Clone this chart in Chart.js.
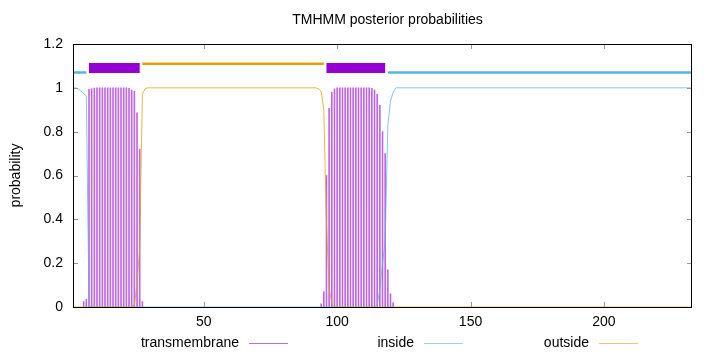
<!DOCTYPE html>
<html><head><meta charset="utf-8">
<script src="https://cdn.jsdelivr.net/npm/chart.js@4/dist/chart.umd.min.js"></script>
<style>html,body{margin:0;padding:0;background:#fff}#wrap{width:720px;height:352px;position:relative}</style>
</head><body><div id="wrap"><canvas id="c" width="720" height="352"></canvas></div>
<script>
const titleText = 'TMHMM posterior probabilities';
const yAxisLabel = 'probability';
const seqStart = 1;
const seqLength = 233;
const xTicks = [50, 100, 150, 200];
const yTicks = [0, 0.2, 0.4, 0.6, 0.8, 1, 1.2];
const seriesNames = ['transmembrane', 'inside', 'outside'];

// transmembrane posterior (impulses) — nonzero residues only
const tmPos = [5,6,7,8,9,10,11,12,13,14,15,16,17,18,19,20,21,22,23,24,25,26,27,
  94,95,96,97,98,99,100,101,102,103,104,105,106,107,108,109,110,111,112,113,114,115,116,117,118,119,120,121];
const tmProb = [0.025,0.035,0.993,0.996,0.999,1,1,1,1,1,1,1,1,1,1,1,1,0.998,0.99,0.984,0.886,0.72,0.025,
  0.014,0.07,0.6,0.907,0.98,0.995,1,1,1,1,1,1,1,1,1,1,1,1,1,0.998,0.99,0.97,0.92,0.8,0.7,0.17,0.06,0.02];

// inside posterior (where it changes)
const insidePos  = [1,2,3,4,5,6,7,8,9,114,115,116,117,118,119,120,121,122,233];
const insideProb = [1,1,0.995,0.985,0.975,0.96,0.005,0.002,0,0,0.01,0.08,0.2,0.3,0.83,0.94,0.98,1,1];

// outside posterior (where it changes)
const outsidePos  = [1,23,24,25,26,27,28,29,92,93,94,95,96,97,98,99,233];
const outsideProb = [0,0,0.01,0.1,0.27,0.97,0.995,1,1,0.995,0.985,0.9,0.38,0.09,0.015,0,0];

// predicted topology
const topoStart = [1, 7, 27, 96, 119];
const topoEnd   = [6, 26, 95, 118, 233];
const topoType  = ['inside', 'transmembrane', 'outside', 'transmembrane', 'inside'];
const topoLevel = {inside: 1.07, transmembrane: 1.09, outside: 1.11};

const colors = {transmembrane: '#9400d3', inside: '#56b4e9', outside: '#e69f00'};
const thinColors = {transmembrane: 'rgba(148,0,211,0.6)', inside: 'rgba(86,180,233,0.75)', outside: 'rgba(230,159,0,0.75)'};
const legendColors = {transmembrane: '#b46ee6', inside: '#9fd0f2', outside: '#f0c770'};
const topoWidth = {inside: 2.5, transmembrane: 10, outside: 2.5};
const FONT = "'Liberation Sans', Arial, Helvetica, sans-serif";

const datasets = [];
topoType.forEach((t, i) => {
  datasets.push({
    type: 'line', order: 0,
    data: [{x: topoStart[i], y: topoLevel[t]}, {x: topoEnd[i], y: topoLevel[t]}],
    borderColor: colors[t], borderWidth: topoWidth[t], borderCapStyle: 'butt',
    pointRadius: 0, tension: 0
  });
});
datasets.push({
  type: 'line', order: 1, label: 'outside',
  data: outsidePos.map((x, i) => ({x, y: outsideProb[i]})),
  borderColor: thinColors.outside, borderWidth: 1, pointRadius: 0, tension: 0
});
datasets.push({
  type: 'line', order: 2, label: 'inside',
  data: insidePos.map((x, i) => ({x, y: insideProb[i]})),
  borderColor: thinColors.inside, borderWidth: 1, pointRadius: 0, tension: 0
});
datasets.push({
  type: 'bar', order: 3, label: 'transmembrane',
  data: tmPos.map((x, i) => ({x, y: tmProb[i]})),
  backgroundColor: 'rgba(148,0,211,0.6)', barThickness: 1, borderWidth: 0
});

const decor = {
  id: 'decor',
  afterDraw(chart) {
    const ctx = chart.ctx, a = chart.chartArea;
    const xs = chart.scales.x, ys = chart.scales.y;
    ctx.save();
    // inward tick marks
    ctx.strokeStyle = '#999'; ctx.lineWidth = 1;
    ctx.beginPath();
    yTicks.forEach(v => {
      const y = Math.round(ys.getPixelForValue(v)) + 0.5;
      ctx.moveTo(a.left, y); ctx.lineTo(a.left + 5, y);
      ctx.moveTo(a.right, y); ctx.lineTo(a.right - 5, y);
    });
    xTicks.forEach(v => {
      const x = Math.round(xs.getPixelForValue(v)) + 0.5;
      ctx.moveTo(x, a.bottom); ctx.lineTo(x, a.bottom - 5);
      ctx.moveTo(x, a.top); ctx.lineTo(x, a.top + 5);
    });
    ctx.stroke();
    // frame
    ctx.strokeStyle = '#000';
    ctx.strokeRect(a.left + 0.5, a.top + 0.5, a.right - a.left - 1, a.bottom - a.top);
    // title
    ctx.fillStyle = '#000';
    ctx.font = '14px ' + FONT;
    ctx.textAlign = 'center'; ctx.textBaseline = 'middle';
    ctx.fillText(titleText, (a.left + a.right) / 2 + 5, 20);
    // y label
    ctx.save();
    ctx.translate(16, (a.top + a.bottom) / 2);
    ctx.rotate(-Math.PI / 2);
    ctx.fillText(yAxisLabel, 0, 0);
    ctx.restore();
    // legend
    const legendY = 343;
    seriesNames.forEach((name, i) => {
      const right = 239 + 175 * i;
      ctx.textAlign = 'right';
      ctx.fillStyle = '#000';
      ctx.fillText(name, right, legendY);
      ctx.strokeStyle = legendColors[name];
      ctx.lineWidth = 1;
      ctx.beginPath();
      ctx.moveTo(right + 10, legendY + 0.5);
      ctx.lineTo(right + 49, legendY + 0.5);
      ctx.stroke();
    });
    ctx.restore();
  }
};

new Chart(document.getElementById('c'), {
  data: {datasets},
  options: {
    responsive: false, animation: false, devicePixelRatio: 1,
    layout: {padding: {left: 0, right: 28, top: 44, bottom: 0}},
    plugins: {legend: {display: false}, title: {display: false}, tooltip: {enabled: false}},
    scales: {
      x: {
        type: 'linear', min: seqStart, max: seqLength, offset: false,
        grid: {display: false, drawTicks: false}, border: {display: false},
        afterBuildTicks: s => { s.ticks = xTicks.map(v => ({value: v})); },
        afterFit: s => { s.height = 45; },
        ticks: {font: {family: FONT, size: 14}, color: '#000', padding: 7, maxRotation: 0, autoSkip: false,
                callback: v => String(v)}
      },
      y: {
        type: 'linear', min: 0, max: 1.2,
        grid: {display: false, drawTicks: false}, border: {display: false},
        afterBuildTicks: s => { s.ticks = yTicks.map(v => ({value: v})); },
        afterFit: s => { s.width = 73; },
        ticks: {font: {family: FONT, size: 14}, color: '#000', padding: 10,
                callback: v => String(Math.round(v * 10) / 10)}
      }
    }
  },
  plugins: [decor]
});
</script>
</body></html>
